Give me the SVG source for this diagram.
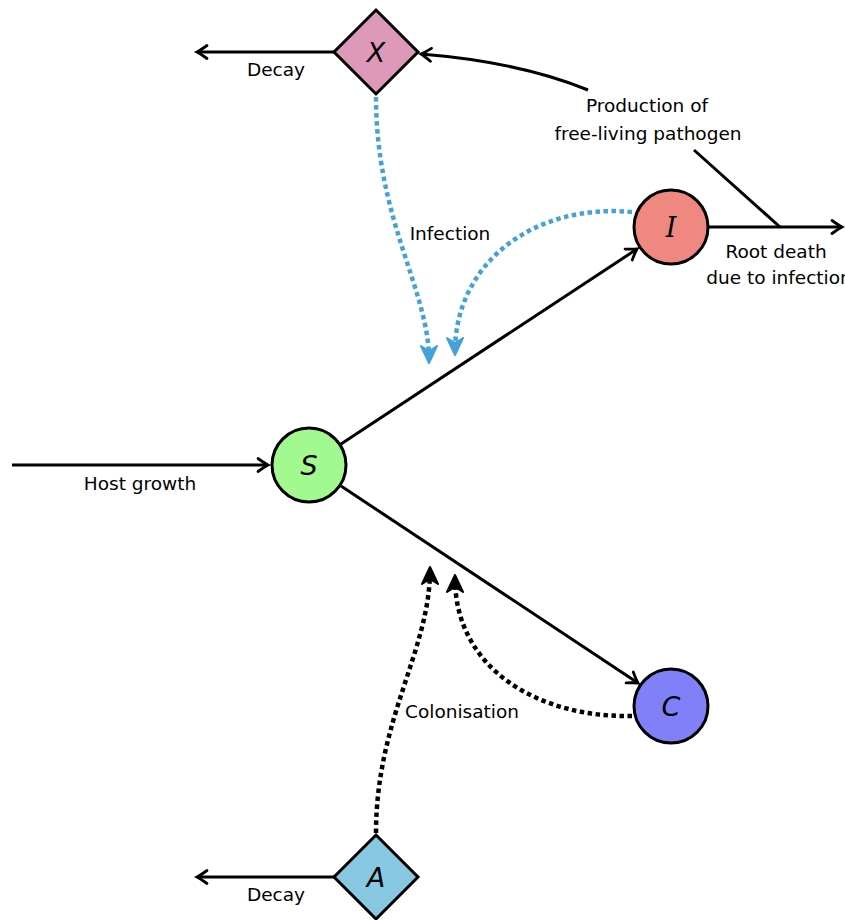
<svg xmlns="http://www.w3.org/2000/svg" width="845" height="920" viewBox="0 0 845 920">
<style>
.lbl{font-family:"DejaVu Sans","Liberation Sans",sans-serif;font-size:18.5px;fill:#000;text-anchor:middle}
.var{font-family:"DejaVu Sans","Liberation Sans",sans-serif;font-style:italic;font-size:27px;fill:#000;text-anchor:middle}
.node{stroke:#000;stroke-width:3}
.solid{fill:none;stroke:#000;stroke-width:3}
.blue{fill:none;stroke:#44a2d9;stroke-width:4.5;stroke-dasharray:4.5 3.5}
.blk{fill:none;stroke:#000;stroke-width:4.5;stroke-dasharray:4.5 3.5}
</style>
<defs>
<marker id="to" markerWidth="20" markerHeight="20" refX="0" refY="0" orient="auto" markerUnits="userSpaceOnUse" overflow="visible">
<path d="M-10,-6.5 Q-3,-1.5 0,0 Q-3,1.5 -10,6.5" fill="none" stroke="#000" stroke-width="2.8" stroke-linecap="round"/>
</marker>
<marker id="fb" markerWidth="20" markerHeight="20" refX="0" refY="0" orient="auto" markerUnits="userSpaceOnUse" overflow="visible">
<path d="M3,0 L-14,-8 L-9,0 L-14,8 Z" fill="#44a2d9" stroke="#44a2d9" stroke-width="2" stroke-linejoin="round"/>
</marker>
<marker id="fk" markerWidth="20" markerHeight="20" refX="0" refY="0" orient="auto" markerUnits="userSpaceOnUse" overflow="visible">
<path d="M3,0 L-14,-8 L-9,0 L-14,8 Z" fill="#000" stroke="#000" stroke-width="2" stroke-linejoin="round"/>
</marker>
</defs>
<g id="connectors">
<line class="solid" x1="12" y1="465" x2="268" y2="465" marker-end="url(#to)"/>
<line class="solid" x1="334" y1="52" x2="197" y2="52" marker-end="url(#to)"/>
<line class="solid" x1="334" y1="877" x2="197" y2="877" marker-end="url(#to)"/>
<line class="solid" x1="341" y1="444" x2="637" y2="249" marker-end="url(#to)"/>
<line class="solid" x1="341" y1="486" x2="638" y2="683" marker-end="url(#to)"/>
<line class="solid" x1="709" y1="227" x2="842" y2="227" marker-end="url(#to)"/>
<line class="solid" x1="780" y1="227" x2="694" y2="150"/>
<path class="solid" d="M588,90 Q520,62 421,54" marker-end="url(#to)"/>
<path class="blue" d="M376,97 C376,220 429,290 429,360" marker-end="url(#fb)"/>
<path class="blue" d="M632,212 C535,203 455,262 455,352" marker-end="url(#fb)"/>
<path class="blk" d="M376,833 C376,720 430,650 430,570" marker-end="url(#fk)"/>
<path class="blk" d="M632,716 C540,718 455,670 455,578" marker-end="url(#fk)"/>
<text class="lbl" x="140" y="490">Host growth</text>
<text class="lbl" x="276" y="76">Decay</text>
<text class="lbl" x="276" y="901">Decay</text>
<text class="lbl" x="647" y="112">Production of</text>
<text class="lbl" x="648" y="140">free-living pathogen</text>
<text class="lbl" x="776" y="258">Root death</text>
<text class="lbl" x="779" y="284">due to infection</text>
<text class="lbl" x="450" y="240">Infection</text>
<text class="lbl" x="462" y="718">Colonisation</text>
</g>
<g id="S"><circle class="node" cx="309" cy="465" r="37" fill="#a2f98f"/><text class="var" x="309" y="475">S</text></g>
<g id="I"><circle class="node" cx="671" cy="227" r="37" fill="#f08882"/><text class="var" x="671" y="237" style="font-family:'DejaVu Serif',serif">I</text></g>
<g id="C"><circle class="node" cx="671" cy="706" r="37" fill="#8080f8"/><text class="var" x="671" y="716">C</text></g>
<g id="X"><polygon class="node" points="376,10 418,52 376,94 334,52" fill="#dd9ab8"/><text class="var" x="376" y="62">X</text></g>
<g id="A"><polygon class="node" points="376,835 418,877 376,919 334,877" fill="#88c8e2"/><text class="var" x="376" y="887">A</text></g>
</svg>
